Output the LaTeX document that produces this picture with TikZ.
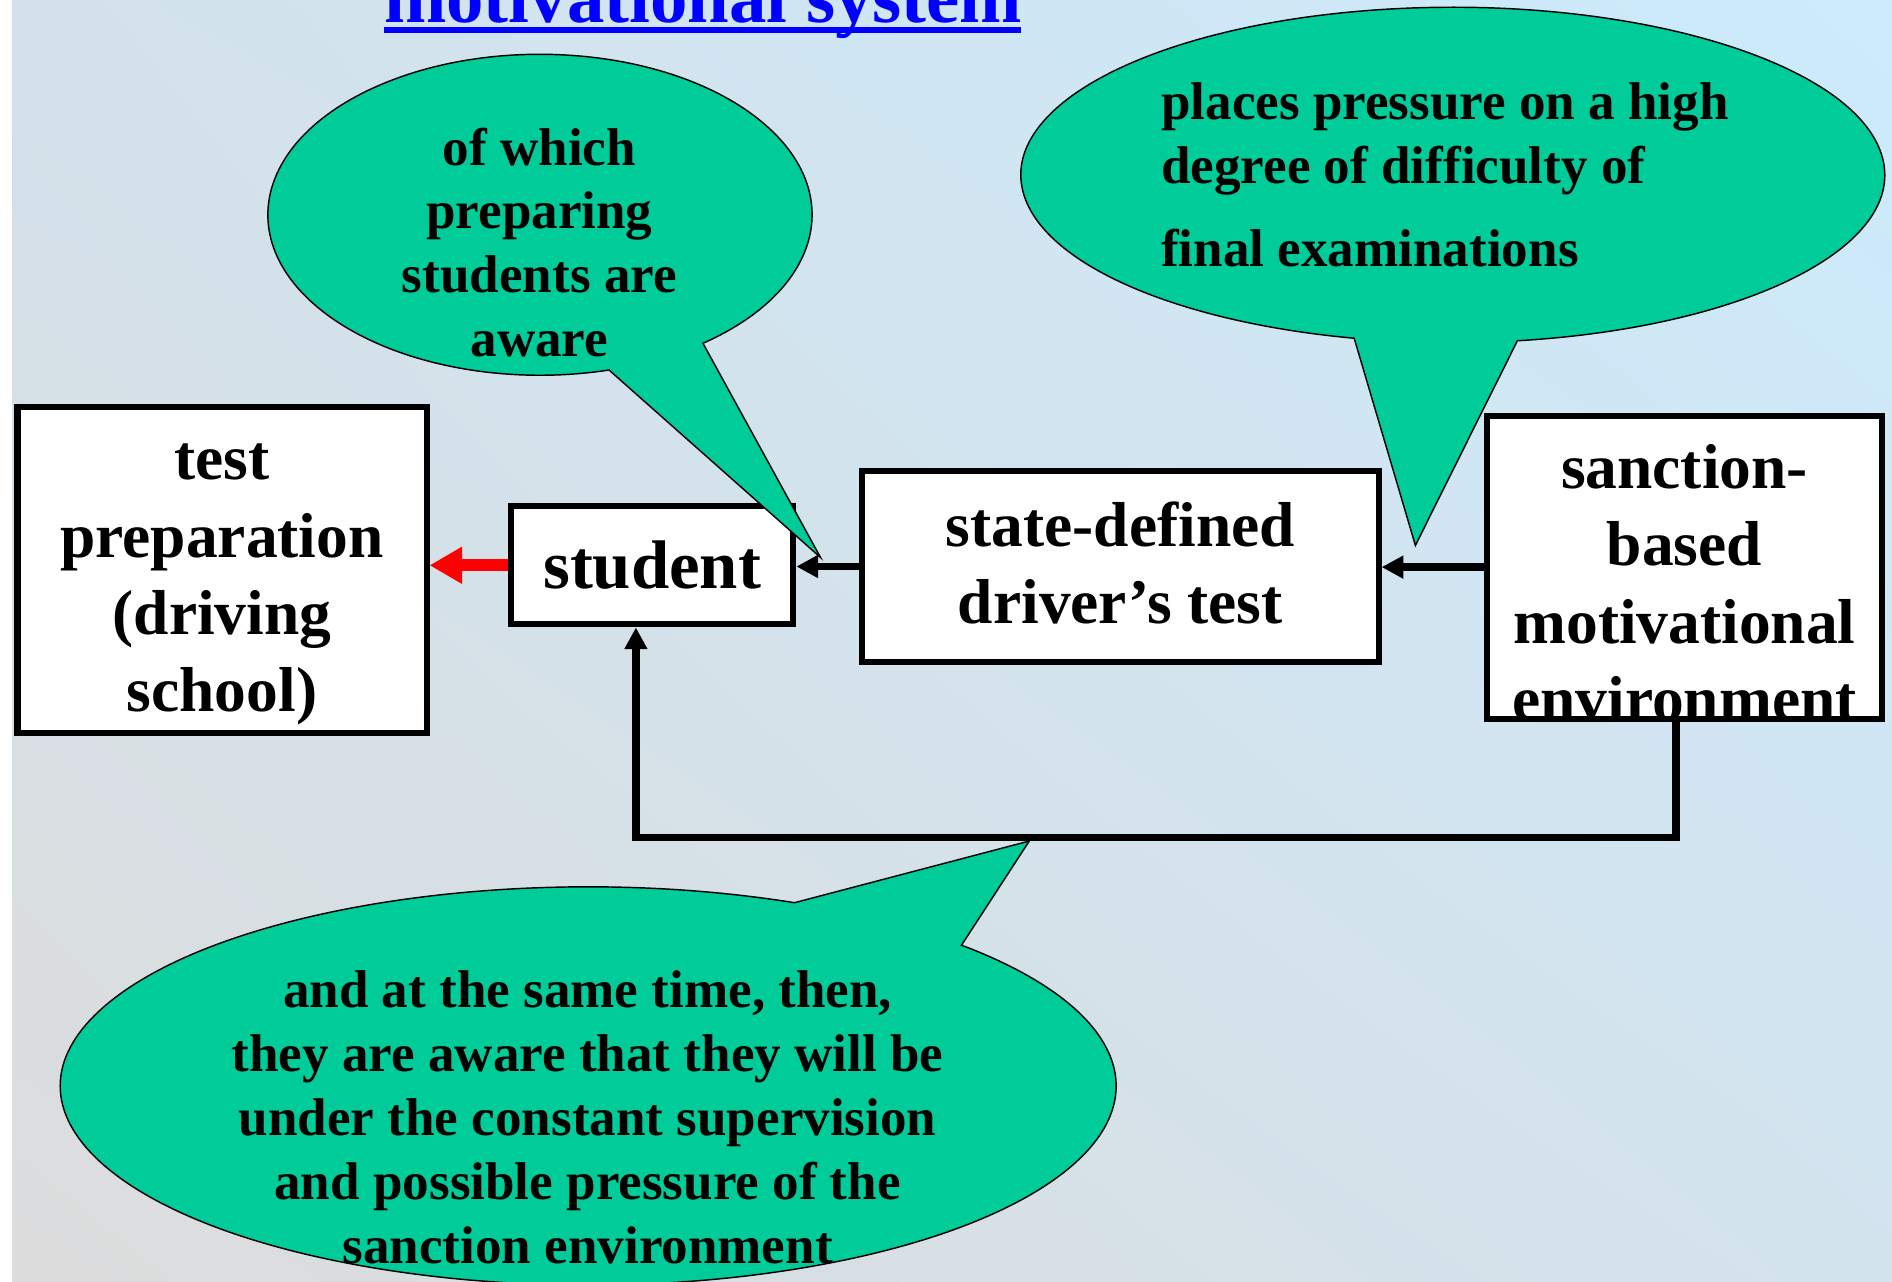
\documentclass[tikz,border=0pt]{standalone}
\usepackage{fontspec}
\setmainfont{Liberation Serif}
\usetikzlibrary{arrows.meta,shadings}
\definecolor{callgreen}{HTML}{00CC99}
\definecolor{titleblue}{HTML}{0000FF}
\definecolor{bgUL}{HTML}{D3E1EB}
\definecolor{bgUR}{HTML}{CCEBFC}
\definecolor{bgLL}{HTML}{DCDCDC}
\definecolor{bgLR}{HTML}{D3E3EE}
\begin{document}
\begin{tikzpicture}[x=0.5pt,y=0.5pt,
  box/.style={draw=black, line width=2.5pt, fill=white, inner sep=0pt, align=center,
    font=\bfseries\fontsize{26.3}{32}\selectfont},
  boxtext/.style={inner sep=0pt, align=center, font=\bfseries\fontsize{26.3}{32}\selectfont},
  conn/.style={draw=black, line width=3pt, -{Triangle[length=9pt,width=9pt]}},
  redconn/.style={draw=red, line width=5pt, -{Triangle[length=13.5pt,width=14.5pt]}},
  callout/.style={draw=black, line width=0.6pt, fill=callgreen},
  ctext/.style={inner sep=0pt, font=\bfseries\fontsize{22}{26.5}\selectfont}
]
\useasboundingbox (0,0) rectangle (1568,1062);
\clip (0,0) rectangle (1568,1062);
\fill[white] (0,0) rectangle (10,1062);
\shade[upper left=bgUL, upper right=bgUR, lower left=bgLL, lower right=bgLR] (10,0) rectangle (1568,1062);

% title
\node[anchor=base west, inner sep=0pt, text=titleblue, font=\bfseries\fontsize{31}{36}\selectfont] (title) at (318,1043) {motivational system};
\fill[titleblue] (318,1035) rectangle (846,1040);

% boxes
\node[box, minimum width=169.5pt, minimum height=135pt] (test) at (184,589.5) {};
\node[boxtext] (testtext) at (184,577.5) {test\\preparation\\(driving\\school)};
\node[box, minimum width=117pt, minimum height=49pt, font=\bfseries\fontsize{28.5}{32}\selectfont] (student) at (540.5,593.5) {student};
\node[box, minimum width=214pt, minimum height=79pt] (state) at (928.5,592.5) {};
\node[boxtext] (statetext) at (928.5,595.5) {state-defined\\driver’s test};
\node[box, minimum width=163.5pt, minimum height=125.5pt] (sanction) at (1396,592) {};
\node[boxtext] (sanctiontext) at (1396,579) {sanction-\\based\\motivational\\environment};

% connectors
\draw[redconn] (student.west) -- (student.west -| test.east);
\draw[conn] (state.west) -- (state.west -| student.east);
\draw[conn] (sanction.west) -- (sanction.west -| state.east);
\coordinate (fbR) at (1389,368);
\coordinate (fbL) at (527,368);
\draw[conn] (fbR |- sanction.south) -- (fbR) -- (fbL) -- (fbL |- student.south);

% callout 1
\coordinate (tip1) at (680,600);
\draw[callout] (447.5,884) ++(306.8:112.75pt and 66.5pt)
  arc[start angle=306.8, end angle=644.7, x radius=112.75pt, y radius=66.5pt] -- (tip1) -- cycle;
\node[ctext, align=center] (c1text) at (447,861) {of which\\preparing\\students are\\aware};

% callout 2
\coordinate (tip2) at (1173,610);
\draw[callout] (1204,917) ++(278.6:179pt and 69.5pt)
  arc[start angle=278.6, end angle=616.8, x radius=179pt, y radius=69.5pt] -- (tip2) -- cycle;
\node[ctext, align=left, anchor=west] (c2text) at (962,917) {places pressure on a high\\degree of difficulty of\\[8pt]final examinations};

% callout 3
\coordinate (tip3) at (853,365);
\draw[callout] (487.5,162) ++(67:218.75pt and 82.5pt)
  arc[start angle=67, end angle=405, x radius=218.75pt, y radius=82.5pt] -- (tip3) -- cycle;
\node[ctext, align=center] (c3text) at (487,136) {and at the same time, then,\\they are aware that they will be\\under the constant supervision\\and possible pressure of the\\sanction environment};
\end{tikzpicture}
\end{document}
